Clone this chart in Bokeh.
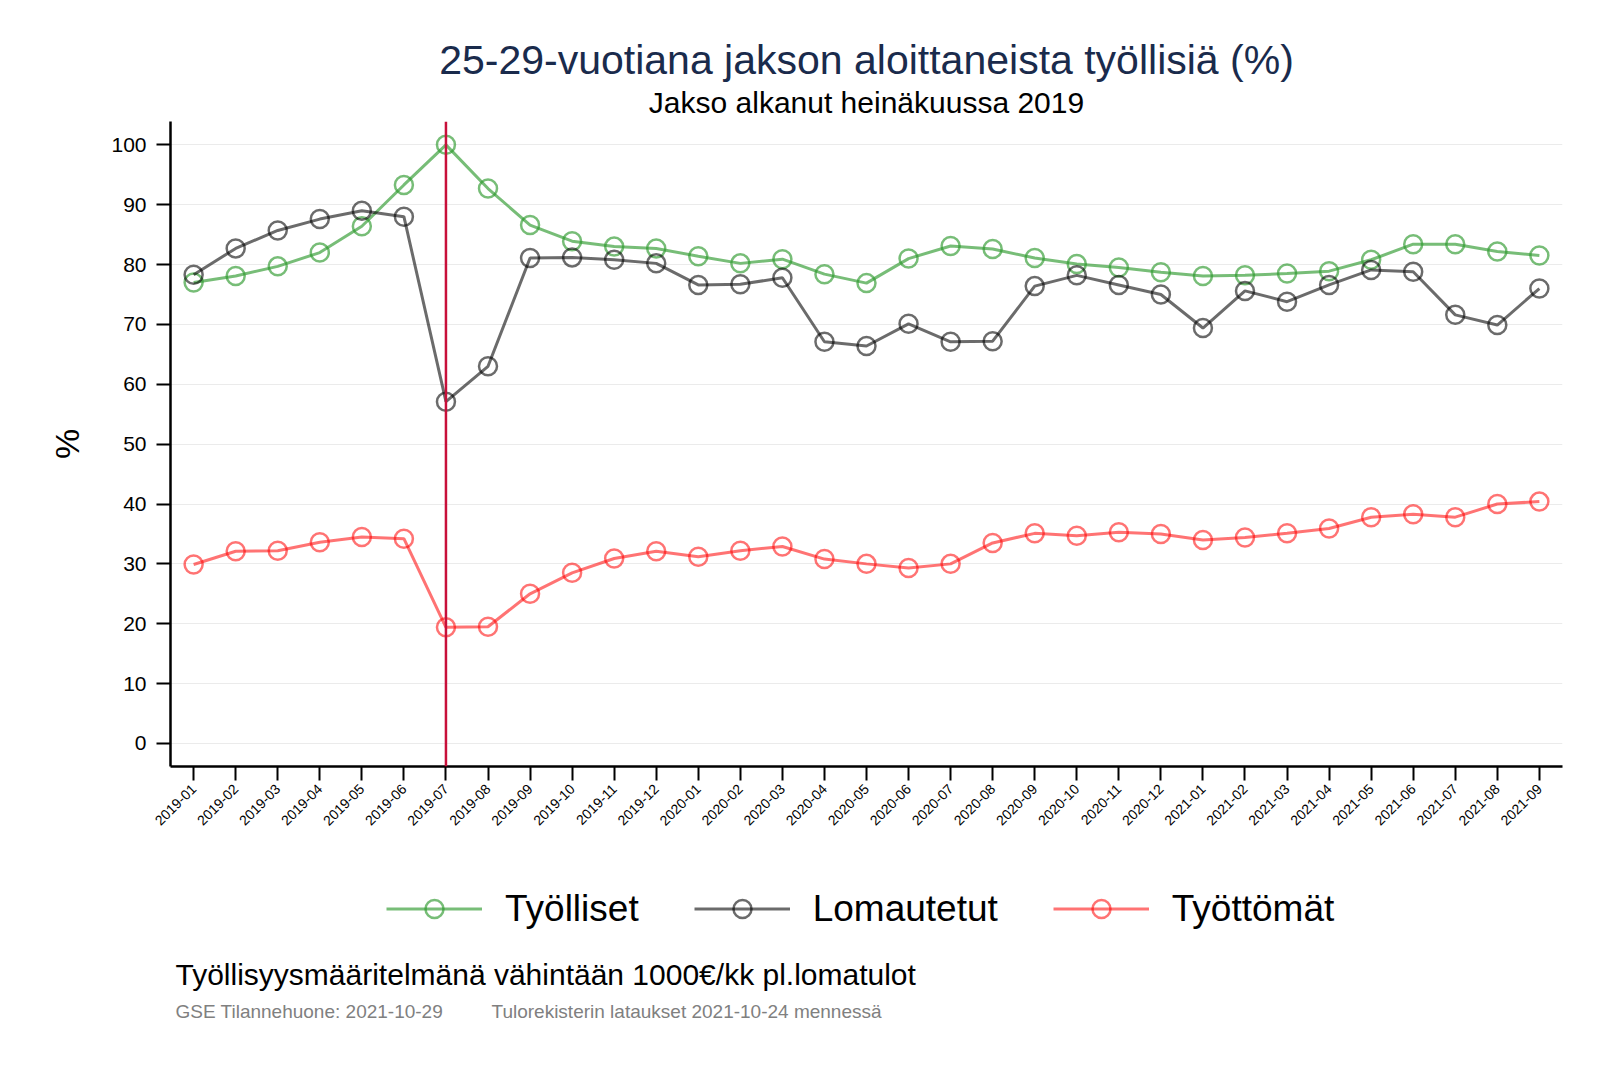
import math
from bokeh.plotting import figure
from bokeh.layouts import column
from bokeh.models import Range1d, FixedTicker, Span, Label, Legend, LegendItem
from bokeh.embed import file_html
from bokeh.resources import INLINE

# ---- data ----
months = ["2019-01", "2019-02", "2019-03", "2019-04", "2019-05", "2019-06",
          "2019-07", "2019-08", "2019-09", "2019-10", "2019-11", "2019-12",
          "2020-01", "2020-02", "2020-03", "2020-04", "2020-05", "2020-06",
          "2020-07", "2020-08", "2020-09", "2020-10", "2020-11", "2020-12",
          "2021-01", "2021-02", "2021-03", "2021-04", "2021-05", "2021-06",
          "2021-07", "2021-08", "2021-09"]
tyolliset = [77.0, 78.1, 79.7, 82.0, 86.4, 93.3, 100.0, 92.7, 86.6, 83.9, 83.0, 82.7,
             81.4, 80.2, 80.9, 78.4, 76.9, 81.0, 83.1, 82.6, 81.1, 80.1, 79.5, 78.7,
             78.1, 78.2, 78.5, 78.9, 80.8, 83.4, 83.4, 82.2, 81.5]
lomautetut = [78.3, 82.7, 85.7, 87.6, 89.0, 88.0, 57.1, 63.0, 81.1, 81.2, 80.8, 80.2,
              76.6, 76.7, 77.8, 67.1, 66.4, 70.1, 67.1, 67.2, 76.4, 78.2, 76.6, 75.0,
              69.4, 75.6, 73.8, 76.6, 79.1, 78.8, 71.6, 69.9, 76.0]
tyottomat = [29.9, 32.1, 32.2, 33.6, 34.5, 34.2, 19.4, 19.5, 25.0, 28.5, 30.9, 32.1,
             31.2, 32.2, 32.9, 30.8, 30.0, 29.3, 30.0, 33.5, 35.1, 34.7, 35.3, 35.0,
             34.0, 34.4, 35.1, 35.9, 37.8, 38.3, 37.8, 40.0, 40.4]
y_ticks = [0, 10, 20, 30, 40, 50, 60, 70, 80, 90, 100]
period_start = "2019-07"

title_text = "25-29-vuotiana jakson aloittaneista työllisiä (%)"
subtitle_text = "Jakso alkanut heinäkuussa 2019"
footnote_text = "Työllisyysmääritelmänä vähintään 1000€/kk pl.lomatulot"
source_text = "GSE Tilannehuone: 2021-10-29"
source_text2 = "Tulorekisterin lataukset 2021-10-24 mennessä"

FONT = "Liberation Sans"
W = 1584
LEFT, RIGHT = 170, 22
H_TOP = 121
H_MAIN = 725
H_BOT = 200
x = list(range(len(months)))

series = [
    ("Työlliset", tyolliset, "#2e9a2e", 0.65),
    ("Lomautetut", lomautetut, "#000000", 0.58),
    ("Työttömät", tyottomat, "#ff0000", 0.55),
]


def blank(height):
    f = figure(width=W, height=height, output_backend="svg", toolbar_location=None,
               x_range=Range1d(LEFT, W - RIGHT), y_range=Range1d(height, 0),
               min_border_left=LEFT, min_border_right=RIGHT,
               min_border_top=0, min_border_bottom=0,
               x_axis_type=None, y_axis_type=None)
    f.outline_line_color = None
    f.grid.visible = False
    f.background_fill_color = "white"
    f.border_fill_color = "white"
    return f


# ---- top: titles ----
top = blank(H_TOP)
top.add_layout(Label(x=866, y=59.5, text=title_text, text_align="center",
                     text_baseline="alphabetic", text_font=FONT,
                     text_font_size="41px", text_color="#1a2b4c"))
top.add_layout(Label(x=866, y=101.5, text=subtitle_text, text_align="center",
                     text_baseline="alphabetic", text_font=FONT,
                     text_font_size="30px", text_color="black"))

# ---- main chart ----
p = figure(width=W, height=H_MAIN, output_backend="svg", toolbar_location=None,
           x_range=Range1d(-0.55, 32.55), y_range=Range1d(-3.85, 103.9),
           min_border_left=LEFT, min_border_right=RIGHT, min_border_top=0,
           min_border_bottom=80)
p.outline_line_color = None
p.background_fill_color = "white"
p.border_fill_color = "white"
p.xgrid.visible = False
p.ygrid.grid_line_color = "#ebebeb"
p.ygrid.grid_line_width = 1

p.yaxis.ticker = FixedTicker(ticks=y_ticks)
p.xaxis.ticker = FixedTicker(ticks=x)
p.xaxis.major_label_overrides = {i: m for i, m in enumerate(months)}
p.xaxis.major_label_orientation = math.pi / 4
for ax in (p.xaxis[0], p.yaxis[0]):
    ax.axis_line_width = 2.5
    ax.axis_line_color = "black"
    ax.major_tick_line_width = 2
    ax.major_tick_line_color = "black"
    ax.major_tick_out = 14
    ax.major_tick_in = 0
    ax.minor_tick_line_color = None
    ax.major_label_text_font = FONT
    ax.major_label_text_color = "black"
p.xaxis.major_label_text_font_size = "14px"
p.xaxis.major_label_standoff = 6
p.yaxis.major_label_text_font_size = "21px"
p.yaxis.major_label_standoff = 10
p.yaxis.axis_label = "%"
p.yaxis.axis_label_text_font = FONT
p.yaxis.axis_label_text_font_size = "34px"
p.yaxis.axis_label_text_font_style = "normal"
p.yaxis.axis_label_text_color = "black"
p.yaxis.axis_label_standoff = 22

for name, vals, col, a in series:
    p.line(x, vals, line_color=col, line_alpha=a, line_width=3)
    p.scatter(x, vals, marker="circle", size=18, fill_alpha=0,
              line_color=col, line_alpha=a, line_width=2.5)

p.add_layout(Span(location=months.index(period_start), dimension="height",
                  line_color="#c8103a", line_width=2.5))

# ---- bottom: legend and notes ----
bot = blank(H_BOT)
items = []
for name, vals, col, a in series:
    ln = bot.line(x, vals, line_color=col, line_alpha=a, line_width=3, visible=False)
    sc = bot.scatter(x, vals, marker="circle", size=18, fill_alpha=0,
                     line_color=col, line_alpha=a, line_width=2.5, visible=False)
    items.append(LegendItem(label=name, renderers=[ln, sc]))
legend = Legend(items=items, orientation="horizontal", location=(386 - LEFT, 115),
                glyph_width=96, glyph_height=45, label_standoff=23, spacing=55,
                padding=0, margin=0, border_line_alpha=0, background_fill_alpha=0,
                inactive_fill_alpha=0,
                label_text_font=FONT, label_text_font_size="37px",
                label_text_color="black", label_height=45)
bot.add_layout(legend)
bot.add_layout(Label(x=175, y=128, text=footnote_text, text_align="left",
                     text_baseline="alphabetic", text_font=FONT,
                     text_font_size="30px", text_color="black"))
bot.add_layout(Label(x=175, y=165, text=source_text, text_align="left",
                     text_baseline="alphabetic", text_font=FONT,
                     text_font_size="19px", text_color="#808080"))
bot.add_layout(Label(x=491, y=165, text=source_text2, text_align="left",
                     text_baseline="alphabetic", text_font=FONT,
                     text_font_size="19px", text_color="#808080"))

layout = column(top, p, bot, spacing=0)
open("out.html", "w").write(file_html(layout, INLINE))
